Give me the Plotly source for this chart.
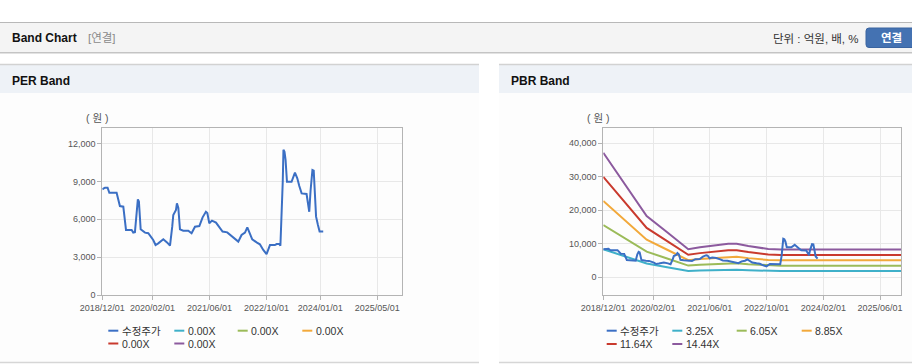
import plotly.graph_objects as go

W, H = 912, 364

# ---------------- data ----------------
price_dates = [
    "2018-12-01", "2018-12-24", "2019-01-15", "2019-01-30", "2019-04-02", "2019-04-30",
    "2019-05-29", "2019-06-21", "2019-08-08", "2019-08-22", "2019-09-05", "2019-09-19",
    "2019-09-30", "2019-10-09", "2019-10-24", "2019-11-30", "2019-12-28", "2020-02-08",
    "2020-02-28", "2020-03-22", "2020-05-04", "2020-06-07", "2020-06-30", "2020-07-19",
    "2020-07-28", "2020-08-20", "2020-08-28", "2020-09-09", "2020-09-23", "2020-10-21",
    "2020-12-03", "2020-12-31", "2021-01-29", "2021-03-07", "2021-04-04", "2021-05-02",
    "2021-05-14", "2021-05-31", "2021-06-23", "2021-07-27", "2021-08-30", "2021-09-21",
    "2021-10-31", "2021-12-07", "2022-02-02", "2022-03-02", "2022-03-31", "2022-04-20",
    "2022-05-07", "2022-06-01", "2022-07-08", "2022-08-05", "2022-09-03", "2022-10-01",
    "2022-10-30", "2022-12-11", "2022-12-26", "2023-01-17", "2023-01-27", "2023-02-08",
    "2023-02-16", "2023-02-22", "2023-03-03", "2023-03-12", "2023-03-24", "2023-04-04",
    "2023-05-02", "2023-05-31", "2023-06-20", "2023-07-07", "2023-07-27", "2023-09-07",
    "2023-09-21", "2023-09-30", "2023-10-11", "2023-10-20", "2023-10-27", "2023-11-07",
    "2023-11-18", "2023-11-27", "2023-12-13", "2023-12-27", "2024-01-27",
]
price_values = [
    8370, 8500, 8500, 8100, 8100, 7050,
    7000, 5160, 5160, 4950, 4980, 6870,
    7580, 7400, 5210, 4950, 4900, 4370,
    3970, 4100, 4420, 4160, 3920, 5420,
    6340, 6740, 7260, 6900, 5210, 5100,
    5100, 4900, 5420, 5470, 6160, 6600,
    6500, 5690, 5900, 5740, 5340, 5030,
    4970, 4680, 4240, 4760, 4950, 5370,
    5000, 4420, 4180, 4030, 3580, 3260,
    3970, 3970, 4050, 4050, 3920, 6470,
    8970, 11500, 11340, 10700, 8970, 8970,
    8970, 9690, 9240, 8630, 8050, 8000,
    7210, 6600, 8260, 9100, 9900, 9850,
    7530, 6210, 5550, 5030, 5030,
]

band_dates = ["2018-12-01", "2019-06-01", "2019-12-08", "2020-06-01", "2020-11-29",
              "2021-03-09", "2021-08-28", "2021-11-07", "2022-01-18", "2022-04-28",
              "2022-10-16", "2023-02-01", "2025-11-28"]
band_325 = [8372, 6315, 4118, 3023, 1882, 2015, 2171, 2259, 2259, 2103, 1901, 1869, 1869]
band_605 = [15585, 11755, 7665, 5627, 3503, 3751, 4041, 4205, 4205, 3914, 3539, 3479, 3479]
band_885 = [22798, 17196, 11213, 8231, 5124, 5487, 5912, 6151, 6151, 5726, 5177, 5089, 5089]
band_1164 = [29985, 22617, 14748, 10825, 6740, 7217, 7776, 8090, 8090, 7531, 6809, 6693, 6693]
band_1444 = [37197, 28057, 18295, 13429, 8361, 8953, 9646, 10036, 10036, 9343, 8447, 8303, 8303]

per_labels = ["수정주가", "0.00X", "0.00X", "0.00X", "0.00X", "0.00X"]
pbr_labels = ["수정주가", "3.25X", "6.05X", "8.85X", "11.64X", "14.44X"]
series_colors = ["#3b6fc4", "#3fb0c9", "#9bbb59", "#f2a93b", "#c93a2e", "#8c5a9e"]

per_xticks = ["2018-12-01", "2020-02-01", "2021-06-01", "2022-10-01", "2024-01-01", "2025-05-01"]
pbr_xticks = ["2018-12-01", "2020-02-01", "2021-06-01", "2022-10-01", "2024-02-01", "2025-06-01"]
per_yticks = [0, 3000, 6000, 9000, 12000]
pbr_yticks = [0, 10000, 20000, 30000, 40000]

# PBR price line ends a little earlier in the source
pbr_price_dates = price_dates[:-2]
pbr_price_values = price_values[:-2]

# ---------------- helpers ----------------
def px(x):
    return x / W

def py(y):
    return 1 - y / H

FONT = "Liberation Sans, Arial, 'Noto Sans CJK KR', sans-serif"

fig = go.Figure()

bands = [band_325, band_605, band_885, band_1164, band_1444]
for i, b in enumerate(bands):
    fig.add_trace(go.Scatter(x=band_dates, y=b, mode="lines", name=pbr_labels[i + 1],
                             line=dict(color=series_colors[i + 1], width=2),
                             xaxis="x2", yaxis="y2", hoverinfo="skip"))

fig.add_trace(go.Scatter(x=price_dates, y=price_values, mode="lines", name=per_labels[0],
                         line=dict(color=series_colors[0], width=2), xaxis="x", yaxis="y"))
fig.add_trace(go.Scatter(x=pbr_price_dates, y=pbr_price_values, mode="lines", name=pbr_labels[0],
                         line=dict(color=series_colors[0], width=2), xaxis="x2", yaxis="y2"))

ydom = [py(295.3), py(128.3)]
axis_common = dict(showline=True, mirror=True, linecolor="#b4b4b4", linewidth=1,
                   showgrid=True, gridcolor="#e8e8e8", gridwidth=1, zeroline=False,
                   ticks="outside", ticklen=4, tickcolor="#b4b4b4", automargin=False,
                   tickfont=dict(family=FONT, size=9, color="#555555"))

fig.update_layout(
    width=W, height=H, autosize=False, margin=dict(l=0, r=0, t=0, b=0, pad=0),
    paper_bgcolor="#ffffff", plot_bgcolor="#ffffff", showlegend=False,
    xaxis=dict(domain=[px(102.3), px(402.3)], type="date", range=["2018-12-01", "2025-12-01"],
               tickvals=per_xticks, tickformat="%Y/%m/%d", anchor="y", **axis_common),
    yaxis=dict(domain=ydom, range=[0, 13190], tickvals=per_yticks, tickformat=",d",
               anchor="x", **axis_common),
    xaxis2=dict(domain=[px(603.3), px(901)], type="date", range=["2018-12-01", "2025-11-28"],
                tickvals=pbr_xticks, tickformat="%Y/%m/%d", anchor="y2", **axis_common),
    yaxis2=dict(domain=ydom, range=[-5370, 44480], tickvals=pbr_yticks, tickformat=",d",
                anchor="x2", **axis_common),
)

shapes = []
ann = []

def rect(x0, y0, x1, y1, fill):
    shapes.append(dict(type="rect", xref="paper", yref="paper", x0=px(x0), x1=px(x1),
                       y0=py(y1), y1=py(y0), fillcolor=fill, layer="below",
                       line=dict(width=0)))

def hline(x0, x1, y, color, width=1):
    shapes.append(dict(type="line", xref="paper", yref="paper", x0=px(x0), x1=px(x1),
                       y0=py(y), y1=py(y), line=dict(color=color, width=width), layer="below"))

rect(0, 22.5, W, 52.5, "#f4f4f4")
hline(0, W, 22.5, "#b8b8b8")
hline(0, W, 52.5, "#c4c4c4")
hline(0, W, 53.5, "#e2e2e2")

for (x0, x1) in [(0, 479), (499, W)]:
    rect(x0, 64, x1, 93, "#eef2f7")
    rect(x0, 93, x1, 362, "#fdfdfd")
    hline(x0, x1, 64.5, "#d2d2d2", 1.5)
    hline(x0, x1, 362.5, "#d6d6d6", 1.5)

bx0, bx1, by0, by1, r = 866, 916, 28, 47.5, 3
path = (f"M{px(bx0 + r)},{py(by0)} L{px(bx1)},{py(by0)} L{px(bx1)},{py(by1)} "
        f"L{px(bx0 + r)},{py(by1)} Q{px(bx0)},{py(by1)} {px(bx0)},{py(by1 - r)} "
        f"L{px(bx0)},{py(by0 + r)} Q{px(bx0)},{py(by0)} {px(bx0 + r)},{py(by0)} Z")
shapes.append(dict(type="path", xref="paper", yref="paper", path=path,
                   fillcolor="#4472b2", line=dict(color="#3a64a0", width=1)))

def text(x, y, s, size, color, bold=False, anchor="left"):
    ann.append(dict(xref="paper", yref="paper", x=px(x), y=py(y), text=f"<b>{s}</b>" if bold else s,
                    showarrow=False, xanchor=anchor, yanchor="middle",
                    font=dict(family=FONT, size=size, color=color)))

text(10, 38.5, "Band Chart", 12, "#111111", bold=True)
text(86, 38.5, "[연결]", 11.5, "#8a8a8a")
text(861, 39, "단위 : 억원, 배, %", 11.5, "#333333", anchor="right")
text(891, 38.5, "연결", 11.5, "#ffffff", bold=True, anchor="center")
text(10, 80.5, "PER Band", 12, "#111111", bold=True)
text(509, 80.5, "PBR Band", 12, "#111111", bold=True)
text(97, 118, "( 원 )", 10.5, "#555555", anchor="center")
text(598, 118, "( 원 )", 10.5, "#555555", anchor="center")

def legend(starts, rows, labels):
    for i, lab in enumerate(labels):
        col = i % 4
        row = i // 4
        x0 = starts[col]
        y = rows[row]
        shapes.append(dict(type="line", xref="paper", yref="paper", x0=px(x0), x1=px(x0 + 10),
                           y0=py(y), y1=py(y), line=dict(color=series_colors[i], width=2)))
        text(x0 + 11.5, y, lab, 10.5, "#333333")

legend([108.3, 174.3, 237.7, 302.3], [330.7, 343.5], per_labels)
legend([606.7, 672.3, 736.7, 801.7], [330.7, 344.0], pbr_labels)

fig.update_layout(shapes=shapes, annotations=ann)
fig.write_html("out.html", config={"displayModeBar": False},
               post_script="document.body.style.margin='0px';document.body.style.overflow='hidden';")
